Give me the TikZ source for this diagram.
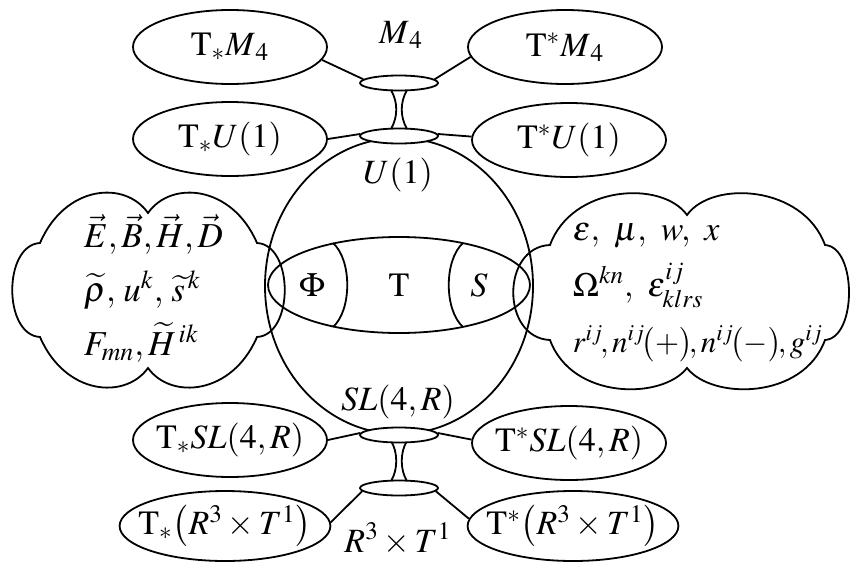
\documentclass[tikz,border=0pt]{standalone}
\usepackage{amsmath}
\usepackage{mathptmx}
\usepackage{exscale}
\usepackage{tikz}
\usetikzlibrary{shapes.geometric}
\tikzset{
    txt/.style={font=\fontsize{17}{20}\selectfont, inner sep=0pt},
    fibre/.style={
        ellipse, draw, txt, inner sep=-6pt,
        minimum width=97pt, minimum height=37pt
    },
    joint/.style={
        ellipse, draw, fill=white, inner sep=0pt,
        minimum width=39pt, minimum height=7.5pt
    },
    cloudtext/.style={inner sep=0pt, align=left, anchor=base west},
    tie/.style={line width=0.9pt},
}

\begin{document}
\begin{tikzpicture}[x=0.5pt, y=-0.5pt, line width=0.9pt]
    \useasboundingbox (0,0) rectangle (851,562);

    % central sphere and tube
    \node[ellipse, draw, minimum width=134pt, minimum height=148pt] (sphere) at (399,286) {};
    \node[ellipse, draw, txt, minimum width=131pt, minimum height=48pt] (tube) at (399,285) {$\mathrm{T}$};
    \draw (333,243) .. controls (352,260) and (352,310) .. (333,327);
    \draw (463,243) .. controls (444,260) and (444,310) .. (463,327);
    \node[txt] (phi) at (312,285) {$\Phi$};
    \node[txt] (ess) at (479,285) {$S$};

    % necks
    \draw (391,90) .. controls (398,102) and (398,117) .. (391,129);
    \draw (407,90) .. controls (400,102) and (400,117) .. (407,129);
    \draw (391,441) .. controls (398,452) and (398,470) .. (391,481);
    \draw (407,441) .. controls (400,452) and (400,470) .. (407,481);

    \node[joint] (m4) at (399,83) {};
    \node[joint] (u1) at (399,136) {};
    \node[joint] (sl) at (399,435) {};
    \node[joint] (rt) at (399,488) {};

    \node[txt, anchor=base] (m4lbl) at (401,43) {$M_{\,4}$};
    \node[txt, anchor=base] (u1lbl) at (398,183) {$U(1)$};
    \node[txt, anchor=base] (sllbl) at (398,410) {$SL(4,R)$};
    \node[txt, anchor=base] (rtlbl) at (398,552) {$R^3\times T^1$};

    % tangent and cotangent bundles
    \node[fibre] (tsm4) at (230,47) {$\mathrm{T}_*M_{\,4}$};
    \node[fibre] (tcm4) at (565,47) {$\mathrm{T}^*M_{\,4}$};
    \node[fibre] (tsu1) at (230,139) {$\mathrm{T}_*U(1)$};
    \node[fibre] (tcu1) at (569,140) {$\mathrm{T}^*U(1)$};
    \node[fibre] (tssl) at (230,440) {$\mathrm{T}_*SL(4,R)$};
    \node[fibre] (tcsl) at (569,443) {$\mathrm{T}^*SL(4,R)$};
    \node[fibre, minimum height=35pt] (tsrt) at (225,526) {$\mathrm{T}_*\bigl(R^3\times T^1\bigr)$};
    \node[fibre, minimum height=35pt] (tcrt) at (573,526) {$\mathrm{T}^*\bigl(R^3\times T^1\bigr)$};

    \draw[tie] (tsm4.-8) -- (m4.174);
    \draw[tie] (tcm4.186) -- (m4.6);
    \draw[tie] (tsu1.east) -- (u1.177);
    \draw[tie] (tcu1.178) -- (u1.3);
    \draw[tie] (tssl.east) -- (sl.177);
    \draw[tie] (tcsl.178) -- (sl.3);
    \draw[tie] (tsrt.2) -- (rt.185);
    \draw[tie] (tcrt.176) -- (rt.-5);

    % field clouds
    \draw (40,243) .. controls (65,185) and (125,180) .. (148,213)
        .. controls (171,180) and (232,185) .. (257,243)
        .. controls (294,245) and (294,335) .. (257,337)
        .. controls (232,395) and (171,400) .. (148,368)
        .. controls (125,400) and (65,395) .. (40,337)
        .. controls (3,335) and (3,245) .. (40,243) -- cycle;
    \draw (550,245) .. controls (572,185) and (662,180) .. (687,215)
        .. controls (712,180) and (803,185) .. (825,245)
        .. controls (857,247) and (857,338) .. (825,340)
        .. controls (803,400) and (712,400) .. (687,368)
        .. controls (662,400) and (572,400) .. (550,340)
        .. controls (501,338) and (501,247) .. (550,245) -- cycle;

    \node[cloudtext, font=\fontsize{17.5}{27}\selectfont] (fields) at (83,355) {%
        $\vec{E},\vec{B},\vec{H},\vec{D}$\\
        $\widetilde{\rho},\,u^k,\,\widetilde{s}^{\,k}$\\
        $F_{mn},\widetilde{H}^{\,ik}$};
    \node[cloudtext, font=\fontsize{17}{28}\selectfont] (media) at (572,352) {%
        $\varepsilon,\ \mu,\ w,\ x$\\
        $\Omega^{kn},\ \varepsilon^{ij}_{klrs}$\\
        {\fontsize{15.5}{28}\selectfont$r^{ij}\!,n^{ij}\!\bigl(+\bigr)\!,n^{ij}\!\bigl(-\bigr)\!,g^{ij}$}};
\end{tikzpicture}
\end{document}
